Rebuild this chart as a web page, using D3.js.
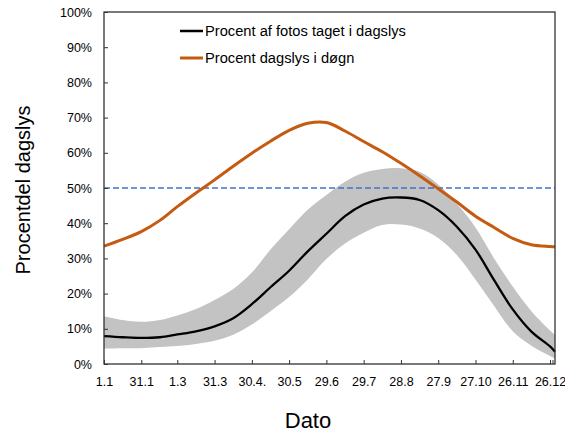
<!DOCTYPE html>
<html><head><meta charset="utf-8">
<script src="https://cdn.jsdelivr.net/npm/d3@7"></script>
<style>body{margin:0;background:#fff}svg{display:block}text{font-family:"Liberation Sans",Arial,sans-serif;fill:#000}</style>
</head><body><svg id="c" width="565" height="435"></svg>
<script>
// day of year
const days = [1,16,31,46,60,75,90,105,120,135,150,165,180,195,210,225,240,255,270,285,300,315,330,345,360,364];
const photoPct = [7.9,7.6,7.4,7.6,8.4,9.3,10.7,13.0,17.0,21.8,26.5,32.0,37.0,42.0,45.3,47.0,47.3,46.6,43.7,39.0,32.5,23.8,15.5,9.2,5.0,3.5];
const photoUpper = [13.6,12.5,12.0,12.5,13.8,15.6,18.2,21.3,26.0,32.5,38.3,43.8,48.0,51.8,54.3,55.4,55.6,54.6,51.0,45.5,38.8,30.0,22.0,15.0,9.5,8.2];
const photoLower = [4.4,4.5,4.5,4.8,5.1,5.7,6.6,8.3,11.2,15.0,19.0,24.0,29.8,34.2,37.3,39.5,39.6,38.5,35.8,31.0,24.0,16.5,9.3,5.2,2.3,1.6];
const daylightPct = [33.5,35.4,37.6,40.8,44.7,48.6,52.3,56.2,59.9,63.3,66.4,68.4,68.6,66.2,63.2,60.3,57.0,53.5,49.8,46.0,42.0,38.8,35.7,33.9,33.4,33.3];
const tickDays = [1,31,60,90,120,150,180,210,240,270,300,330,360];
const tickLabels = ["1.1","31.1","1.3","31.3","30.4.","30.5","29.6","29.7","28.8","27.9","27.10","26.11","26.12"];
const yTicks = [0,10,20,30,40,50,60,70,80,90,100];
const refLine = 50;
const legendLabels = ["Procent af fotos taget i dagslys","Procent dagslys i døgn"];

const svg = d3.select("#c");
const L=104, R=555, T=12, B=364;
const x = d3.scaleLinear().domain([1,364]).range([L,R]);
const y = d3.scaleLinear().domain([0,100]).range([B,T]);
const data = days.map((d,i)=>({d, m:photoPct[i], u:photoUpper[i], l:photoLower[i], o:daylightPct[i]}));

const curve = d3.curveCatmullRom.alpha(0.5);
svg.append("path").datum(data)
  .attr("d", d3.area().x(p=>x(p.d)).y0(p=>y(p.l)).y1(p=>y(p.u)).curve(curve))
  .attr("fill","#c3c3c3");
svg.append("line").attr("x1",x(1)).attr("x2",x(364)).attr("y1",y(refLine)).attr("y2",y(refLine))
  .attr("stroke","#4472c4").attr("stroke-width",1.5).attr("stroke-dasharray","6,3");
svg.append("path").datum(data)
  .attr("d", d3.line().x(p=>x(p.d)).y(p=>y(p.o)).curve(curve))
  .attr("fill","none").attr("stroke","#c55a11").attr("stroke-width",3);
svg.append("path").datum(data)
  .attr("d", d3.line().x(p=>x(p.d)).y(p=>y(p.m)).curve(curve))
  .attr("fill","none").attr("stroke","#000").attr("stroke-width",2.3);

// frame
svg.append("rect").attr("x",L).attr("y",T).attr("width",R-L).attr("height",B-T)
  .attr("fill","none").attr("stroke","#333").attr("stroke-width",1.3);

// y axis
const ya = svg.append("g").attr("transform",`translate(${L},0)`)
  .call(d3.axisLeft(y).tickValues(yTicks).tickFormat(d=>d+"%").tickSize(-4).tickPadding(12));
ya.select(".domain").remove();
ya.selectAll("line").attr("stroke","#333");
ya.selectAll("text").attr("font-size","12.5px").attr("font-family","Liberation Sans, Arial").attr("fill","#000");

// x axis
const xa = svg.append("g").attr("transform",`translate(0,${B})`)
  .call(d3.axisBottom(x).tickValues(tickDays).tickFormat((d,i)=>tickLabels[i]).tickSize(-4).tickPadding(13));
xa.select(".domain").remove();
xa.selectAll("line").attr("stroke","#333");
xa.selectAll("text").attr("font-size","12.5px").attr("font-family","Liberation Sans, Arial").attr("fill","#000");
svg.append("line").attr("x1",R-2).attr("x2",R-2).attr("y1",B).attr("y2",B-4).attr("stroke","#333");

// axis titles
svg.append("text").attr("transform","translate(30,190) rotate(-90)").attr("text-anchor","middle")
  .attr("font-size","20px").text("Procentdel dagslys");
svg.append("text").attr("x",308).attr("y",428).attr("text-anchor","middle")
  .attr("font-size","22px").text("Dato");

// legend
const lc = ["#000","#c55a11"], lw=[2.5,3], ly=[31,58];
legendLabels.forEach((t,i)=>{
  svg.append("line").attr("x1",180).attr("x2",203).attr("y1",ly[i]).attr("y2",ly[i]).attr("stroke",lc[i]).attr("stroke-width",lw[i]);
  svg.append("text").attr("x",205).attr("y",ly[i]+5).attr("font-size","14.7px").text(t);
});
</script></body></html>
